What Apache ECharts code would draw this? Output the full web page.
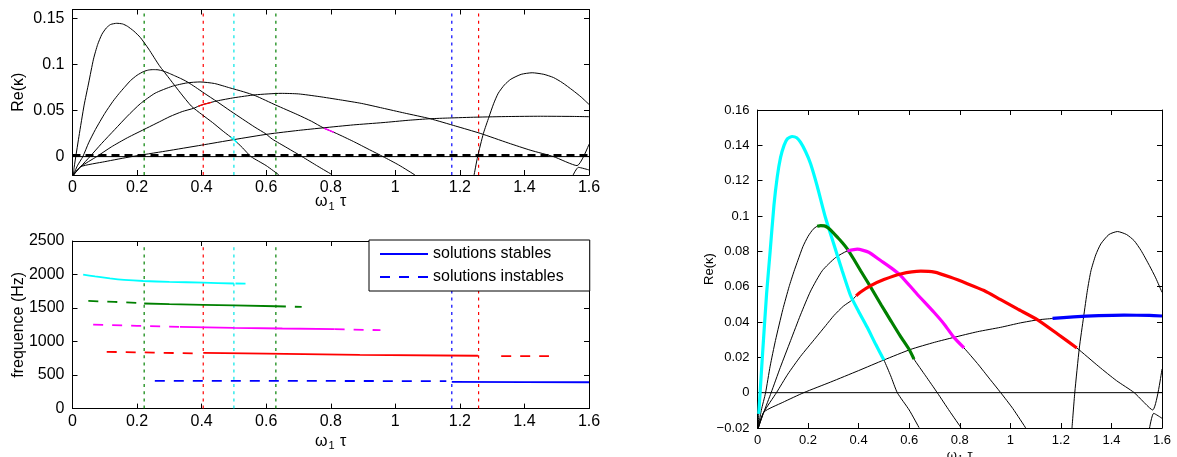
<!DOCTYPE html>
<html><head><meta charset="utf-8">
<script src="https://cdn.jsdelivr.net/npm/echarts@6/dist/echarts.min.js"></script>
<style>html,body{margin:0;padding:0;background:#fff}#c{width:1177px;height:457px}</style>
</head><body><div id="c"></div>
<script>
// ---------- DATA ----------
// Re(kappa) branches vs omega1*tau  ([x, y] pairs)
const curve1 = [[0.003,-0.02],[0.005,-0.012],[0.02,0.022],[0.036,0.056],[0.05,0.08],[0.065,0.106],[0.078,0.122],[0.091,0.133],[0.105,0.14],[0.118,0.1437],[0.137,0.145],[0.155,0.1443],[0.17,0.1418],[0.19,0.1365],[0.21,0.1296],[0.236,0.117],[0.269,0.099],[0.302,0.084],[0.335,0.069],[0.368,0.055],[0.4,0.046],[0.434,0.037],[0.467,0.0275],[0.5,0.0185],[0.527,0.0095],[0.553,0],[0.6,-0.0098],[0.639,-0.0198]];
const curve2 = [[0.003,-0.02],[0.015,-0.01],[0.032,0],[0.05,0.015],[0.071,0.0295],[0.1,0.047],[0.125,0.06],[0.144,0.0685],[0.16,0.075],[0.18,0.0828],[0.2,0.0885],[0.22,0.0925],[0.236,0.0942],[0.25,0.0946],[0.265,0.0944],[0.28,0.0932],[0.3,0.0905],[0.316,0.088],[0.335,0.085],[0.355,0.0814],[0.381,0.0755],[0.408,0.069],[0.448,0.0597],[0.49,0.0495],[0.527,0.0408],[0.565,0.032],[0.599,0.0247],[0.619,0.019],[0.665,0.0095],[0.711,0],[0.76,-0.0105],[0.804,-0.0196]];
const curve3 = [[0.003,-0.02],[0.025,-0.011],[0.054,0],[0.09,0.0142],[0.131,0.0295],[0.17,0.044],[0.21,0.0575],[0.256,0.069],[0.309,0.0765],[0.355,0.0802],[0.395,0.0812],[0.44,0.0795],[0.487,0.0748],[0.53,0.0705],[0.566,0.0663],[0.63,0.056],[0.698,0.0455],[0.74,0.0385],[0.777,0.0313],[0.817,0.0253],[0.87,0.0165],[0.92,0.0075],[0.962,0],[1.01,-0.009],[1.061,-0.02]];
const curve4 = [[0.003,-0.02],[0.025,-0.011],[0.075,0],[0.12,0.0105],[0.17,0.0205],[0.23,0.031],[0.27,0.038],[0.302,0.0436],[0.34,0.049],[0.375,0.0525],[0.39,0.0548],[0.408,0.057],[0.448,0.0606],[0.5,0.064],[0.566,0.0672],[0.646,0.0688],[0.7,0.0682],[0.764,0.0653],[0.83,0.0617],[0.896,0.0578],[0.96,0.0528],[1.028,0.0474],[1.108,0.0412],[1.187,0.0332],[1.263,0.0253],[1.35,0.0148],[1.42,0.0068],[1.49,0],[1.563,-0.0098],[1.6,0.0134]];
const curve5 = [[0.003,-0.02],[0.025,-0.011],[0.1,-0.0055],[0.183,0],[0.289,0.006],[0.4,0.0125],[0.5,0.0185],[0.606,0.0245],[0.7,0.0285],[0.777,0.0313],[0.87,0.0345],[0.962,0.037],[1.04,0.0395],[1.108,0.0412],[1.167,0.042],[1.25,0.0429],[1.35,0.0436],[1.45,0.0439],[1.55,0.0437],[1.6,0.0434]];
const curve6 = [[1.244,-0.02],[1.255,0],[1.273,0.0253],[1.29,0.043],[1.305,0.058],[1.319,0.069],[1.338,0.078],[1.358,0.0842],[1.39,0.0895],[1.424,0.0912],[1.46,0.0895],[1.49,0.086],[1.517,0.0805],[1.55,0.072],[1.575,0.065],[1.6,0.0568]];
const curve7 = [[1.55,-0.0206],[1.567,-0.0117],[1.6,-0.0145]];

// stable ranges (coloured branches, right panel)
const stableCyan    = [0.005, 0.5];
const stableGreen   = [0.236, 0.619];
const stableMagenta = [0.355, 0.817];
const stableRed     = [0.39, 1.263];
const stableBlue    = [1.167, 1.6];

// small coloured remnants in the top-left panel
const bitRed = [0.39, 0.43];
const bitCyan = [0.49, 0.51];
const bitMagenta = [0.78, 0.81];

// vertical markers (omega1*tau)
const markerX      = [0.222, 0.405, 0.5, 0.63, 1.175, 1.258];
const markerColors = ['#008000', '#ff0000', '#00e5e5', '#008000', '#0000ff', '#ff0000'];
const markerTopRe = 0.157, markerTopHz = 2440;

// zero reference lines in top-left panel
const zeroSolid = 0, zeroDashed = 0.0012;

// frequencies (Hz)
const cyanStable     = [[0.033,1998],[0.07,1972],[0.116,1942],[0.16,1920],[0.219,1903],[0.3,1890],[0.405,1879],[0.5,1866]];
const cyanUnstable   = [[0.505,1866],[0.56,1862]];
const greenUnst1     = [[0.049,1606],[0.13,1592],[0.222,1570]];
const greenStable    = [[0.222,1568],[0.3,1558],[0.405,1548],[0.5,1540],[0.63,1527]];
const greenUnst2     = [[0.63,1527],[0.71,1516]];
const magentaUnst1   = [[0.064,1254],[0.2,1235],[0.333,1219]];
const magentaStable  = [[0.333,1219],[0.5,1205],[0.65,1195],[0.812,1185]];
const magentaUnst2   = [[0.812,1185],[0.954,1170]];
const redUnst1       = [[0.106,847],[0.25,835],[0.379,823]];
const redStable      = [[0.405,832],[0.6,820],[0.89,800],[1.256,788]];
const redUnst2       = [[1.328,783],[1.476,783]];
const blueUnstable   = [[0.255,415],[0.7,413],[1.158,410]];
const blueStable     = [[1.175,400],[1.4,396],[1.6,393]];

// axis ticks
const xTicksMax = 1.6, xInterval = 0.2;
const reTicksTop = [0, 0.05, 0.1, 0.15];
const reMin = -0.02, reMax = 0.16, reIntervalRight = 0.02;
const hzMax = 2500, hzInterval = 500;

// ---------- CHART ----------
const FONT = '"Liberation Sans", Arial, Helvetica, sans-serif';
const C = {cyan:'#00ffff', green:'#008000', magenta:'#ff00ff', red:'#ff0000', blue:'#0000ff'};

function seg(curve, r) {
  const [x0, x1] = r;
  const interp = x => {
    for (let i = 0; i < curve.length - 1; i++) {
      const a = curve[i], b = curve[i + 1];
      if (x >= a[0] && x <= b[0]) return [x, a[1] + (b[1] - a[1]) * (x - a[0]) / (b[0] - a[0])];
    }
    return null;
  };
  const out = [interp(x0)];
  curve.forEach(p => { if (p[0] > x0 && p[0] < x1) out.push(p); });
  out.push(interp(x1));
  return out.filter(Boolean);
}

const series = [];
function line(data, gi, color, width, type, name, smooth, z) {
  series.push({
    type: 'line', name: name || ('s' + series.length), xAxisIndex: gi, yAxisIndex: gi, data,
    symbol: 'none', showSymbol: false, smooth: smooth || false,
    lineStyle: {color, width, type: type || 'solid'}, itemStyle: {color},
    animation: false, silent: true, z: z || 2, clip: true
  });
}

const SM = 0.2;
// vertical markers (top-left and bottom-left)
markerX.forEach((x, i) => {
  line([[x, reMin], [x, markerTopRe]], 0, markerColors[i], 1.2, [3, 4.2], null, false, 1);
  line([[x, 0], [x, markerTopHz]], 1, markerColors[i], 1.2, [3, 4.2], null, false, 1);
});
const curves = [curve1, curve2, curve3, curve4, curve5, curve6, curve7];
// top-left black curves
curves.forEach(c => line(c, 0, '#000', 1, 'solid', null, SM, 3));
line(seg(curve4, bitRed), 0, C.red, 1.4, 'solid', null, SM, 4);
line(seg(curve1, bitCyan), 0, C.cyan, 1.4, 'solid', null, SM, 4);
line(seg(curve3, bitMagenta), 0, C.magenta, 1.4, 'solid', null, SM, 4);
// zero lines top-left
line([[0, zeroSolid], [xTicksMax, zeroSolid]], 0, '#000', 1, 'solid', null, false, 3);
line([[0, zeroDashed], [xTicksMax, zeroDashed]], 0, '#000', 3, [8, 5], null, false, 3);

// right panel
line([[0, 0], [xTicksMax, 0]], 2, '#000', 1, 'solid', null, false, 2);
curves.forEach(c => line(c, 2, '#000', 1, 'solid', null, SM, 3));
line(seg(curve1, stableCyan), 2, C.cyan, 3.2, 'solid', null, SM, 4);
line(seg(curve2, stableGreen), 2, C.green, 3.2, 'solid', null, SM, 4);
line(seg(curve3, stableMagenta), 2, C.magenta, 3.2, 'solid', null, SM, 4);
line(seg(curve4, stableRed), 2, C.red, 3.2, 'solid', null, SM, 4);
line(seg(curve5, stableBlue), 2, C.blue, 3.2, 'solid', null, SM, 4);

// frequency panel
const DASH = [10, 9];
const FW = 1.8;
line(cyanStable, 1, C.cyan, FW, 'solid', null, SM, 3);
line(cyanUnstable, 1, C.cyan, FW, DASH, null, false, 3);
line(greenUnst1, 1, C.green, FW, DASH, null, false, 3);
line(greenStable, 1, C.green, FW, 'solid', null, false, 3);
line(greenUnst2, 1, C.green, FW, DASH, null, false, 3);
line(magentaUnst1, 1, C.magenta, FW, DASH, null, false, 3);
line(magentaStable, 1, C.magenta, FW, 'solid', null, false, 3);
line(magentaUnst2, 1, C.magenta, FW, DASH, null, false, 3);
line(redUnst1, 1, C.red, FW, DASH, null, false, 3);
line(redStable, 1, C.red, FW, 'solid', null, false, 3);
line(redUnst2, 1, C.red, FW, DASH, null, false, 3);
line(blueUnstable, 1, C.blue, FW, DASH, 'solutions instables', false, 3);
line(blueStable, 1, C.blue, FW, 'solid', 'solutions stables', false, 3);

const fmt = v => String(v).replace('-', '\u2212');
const nameRich = fs => ({
  a: {fontSize: fs, fontFamily: FONT, color: '#000'},
  s: {fontSize: Math.round(fs * 0.7), fontFamily: FONT, color: '#000', padding: [Math.round(fs * 0.55), 1, 0, 1]}
});
const omegaName = '{a|\u03c9}{s|1}{a| \u03c4}';

function xAxis(gi, pos, fs, showLabel, nameGap, margin) {
  return {
    type: 'value', gridIndex: gi, position: pos, min: 0, max: xTicksMax, interval: xInterval,
    axisLine: {show: true, onZero: false, lineStyle: {color: '#000', width: 1}},
    axisTick: {show: true, inside: true, length: 5, lineStyle: {color: '#000'}},
    axisLabel: {show: showLabel, color: '#000', fontSize: fs, fontFamily: FONT, margin: margin, formatter: fmt},
    splitLine: {show: false},
    name: showLabel ? omegaName : '', nameLocation: 'middle', nameGap: nameGap, nameMoveOverlap: false,
    nameTextStyle: {rich: nameRich(fs), verticalAlign: 'top'}
  };
}
function yAxis(gi, pos, fs, showLabel, cfg, name, nameGap) {
  const ax = Object.assign({
    type: 'value', gridIndex: gi, position: pos,
    axisLine: {show: true, onZero: false, lineStyle: {color: '#000', width: 1}},
    axisTick: {show: true, inside: true, length: 5, lineStyle: {color: '#000'}},
    axisLabel: {show: showLabel, color: '#000', fontSize: fs, fontFamily: FONT, margin: 8, formatter: fmt},
    splitLine: {show: false},
    name: showLabel ? name : '', nameLocation: 'middle', nameGap: nameGap, nameRotate: 90, nameMoveOverlap: false,
    nameTextStyle: {color: '#000', fontSize: fs, fontFamily: FONT}
  }, cfg);
  if (cfg.customValues) {
    ax.axisTick.customValues = cfg.customValues;
    ax.axisLabel.customValues = cfg.customValues;
    delete ax.customValues;
  }
  return ax;
}

const reTopCfg = {min: reMin, max: reMax, customValues: reTicksTop};
const hzCfg = {min: 0, max: hzMax, interval: hzInterval};
const reRightCfg = {min: reMin, max: reMax, interval: reIntervalRight};

const option = {
  backgroundColor: '#fff',
  animation: false,
  grid: [
    {left: 72.5, top: 9.5, width: 516.5, height: 165.5, outerBoundsMode: 'none'},
    {left: 72.5, top: 241, width: 516.5, height: 167.6, outerBoundsMode: 'none'},
    {left: 757.5, top: 110, width: 404.5, height: 318, outerBoundsMode: 'none'}
  ],
  xAxis: [
    xAxis(0, 'bottom', 16, true, 17, 5),
    xAxis(1, 'bottom', 16, true, 23, 5),
    xAxis(2, 'bottom', 13, true, 19, 6),
    xAxis(0, 'top', 16, false, 0, 5),
    xAxis(1, 'top', 16, false, 0, 5),
    xAxis(2, 'top', 13, false, 0, 5)
  ],
  yAxis: [
    yAxis(0, 'left', 16, true, reTopCfg, 'Re(\u03ba)', 46),
    yAxis(1, 'left', 16, true, hzCfg, 'frequence (Hz)', 46),
    yAxis(2, 'left', 13, true, reRightCfg, 'Re(\u03ba)', 42),
    yAxis(0, 'right', 16, false, reTopCfg, '', 0),
    yAxis(1, 'right', 16, false, hzCfg, '', 0),
    yAxis(2, 'right', 13, false, reRightCfg, '', 0)
  ],
  legend: {
    data: ['solutions stables', 'solutions instables'],
    orient: 'vertical', left: 369, top: 240,
    padding: [6, 26, 6, 10], itemGap: 7, itemWidth: 48, itemHeight: 14,
    backgroundColor: '#fff', borderColor: '#000', borderWidth: 1, borderRadius: 0,
    selectedMode: false,
    itemStyle: {color: 'rgba(0,0,0,0)', borderColor: 'rgba(0,0,0,0)', borderWidth: 0},
    textStyle: {fontSize: 16, color: '#000', fontFamily: FONT}
  },
  series
};

const chart = echarts.init(document.getElementById('c'), null, {renderer: 'canvas'});
chart.setOption(option);
</script>
</body></html>
